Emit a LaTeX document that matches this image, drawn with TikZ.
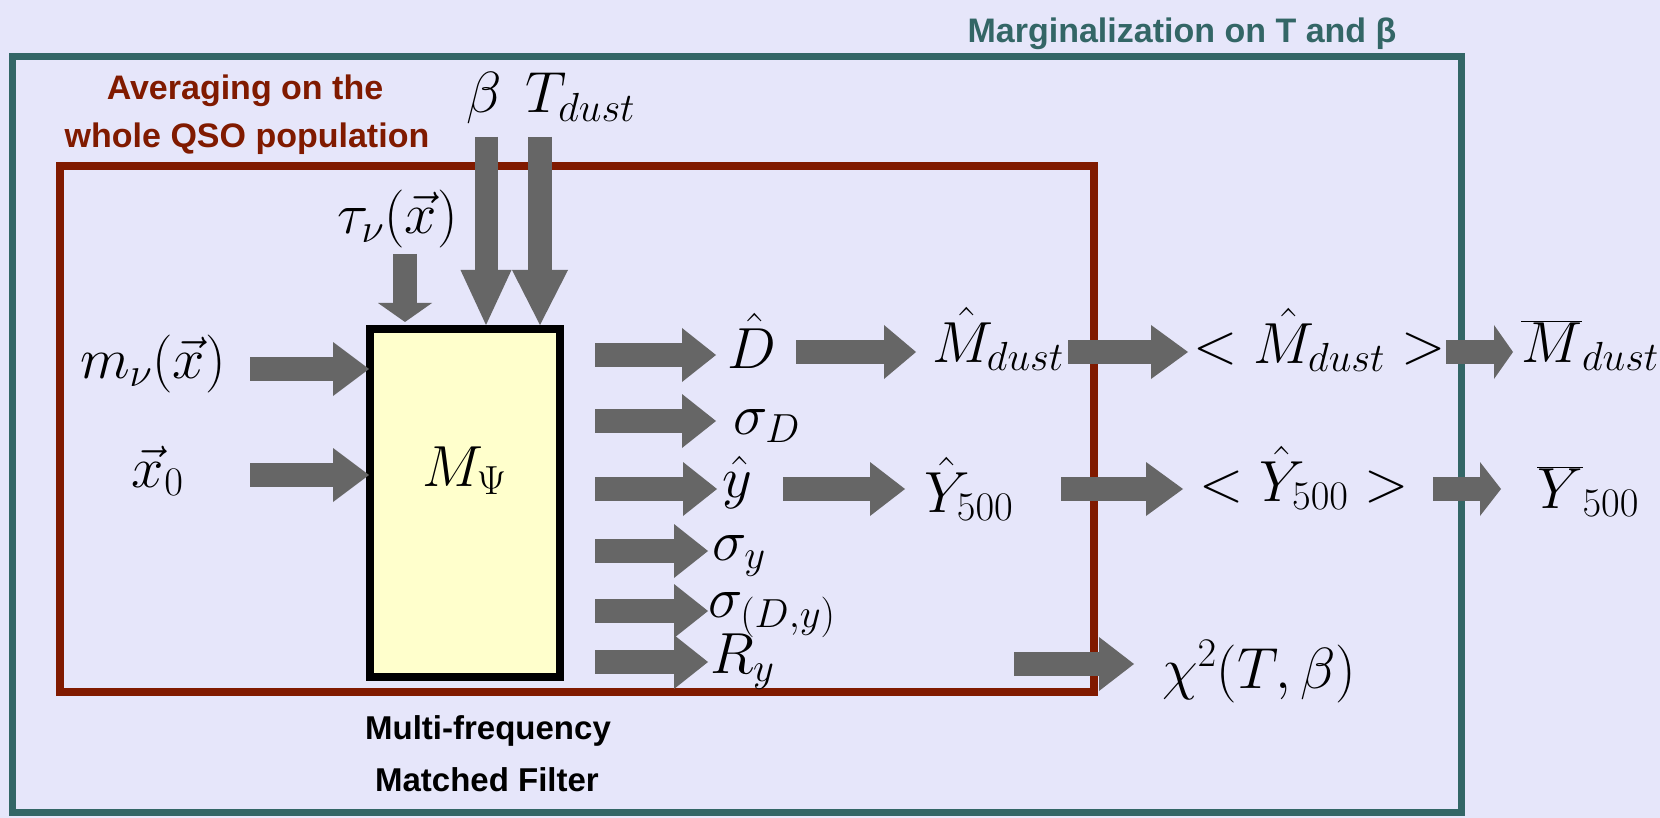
\RequirePackage{fix-cm}
\documentclass[tikz,border=0pt]{standalone}
\usepackage{fontspec}
\newfontfamily\labelsans{Liberation Sans}
\usetikzlibrary{arrows.meta}
\definecolor{bgcol}{RGB}{230,230,250}
\definecolor{tealc}{RGB}{51,102,102}
\definecolor{redc}{RGB}{128,26,0}
\definecolor{arrowgray}{RGB}{102,102,102}
\definecolor{yellowc}{RGB}{255,255,204}
\begin{document}
\begin{tikzpicture}[x=1pt,y=-1pt,
  every node/.style={inner sep=0pt, outer sep=0pt},
  mlab/.style={font=\fontsize{58}{70}\selectfont, anchor=base west},
  slab/.style={font=\labelsans\bfseries\fontsize{34}{40}\selectfont, anchor=base},
  blab/.style={font=\labelsans\bfseries\fontsize{33}{40}\selectfont, anchor=base},
  fat/.style={draw=arrowgray, line width=24pt, -{Triangle[length=#1,width=54pt,line width=0pt]}},
  fat/.default=35pt]
\useasboundingbox (0,0) rectangle (1660,818);
\fill[bgcol] (0,0) rectangle (1660,818);
% frames
\draw[tealc, line width=7pt] (12,57) rectangle (1461,812);
\draw[redc, line width=8pt] (60,166) rectangle (1094,692);
\node[draw=black, line width=8pt, fill=yellowc, minimum width=190pt, minimum height=348pt] (mf) at (465,503) {};
% arrow end points
\coordinate (mS) at (250,369);  \coordinate (mT) at (369,369);
\coordinate (xS) at (250,475);  \coordinate (xT) at (369,475);
\coordinate (tS) at (405,254);  \coordinate (tT) at (405,322);
\coordinate (bS) at (486,137);  \coordinate (bT) at (486,325);
\coordinate (dS) at (540,137);  \coordinate (dT) at (540,325);
\coordinate (o1S) at (595,355); \coordinate (o1T) at (716,355);
\coordinate (o2S) at (595,421); \coordinate (o2T) at (716,421);
\coordinate (o3S) at (595,489); \coordinate (o3T) at (717,489);
\coordinate (o4S) at (595,551); \coordinate (o4T) at (708,551);
\coordinate (o5S) at (595,611); \coordinate (o5T) at (708,611);
\coordinate (o6S) at (595,662); \coordinate (o6T) at (708,662);
\coordinate (p1S) at (796,352); \coordinate (p1T) at (916,352);
\coordinate (p2S) at (783,489); \coordinate (p2T) at (905,489);
\coordinate (q1S) at (1068,352); \coordinate (q1T) at (1188,352);
\coordinate (q2S) at (1061,489); \coordinate (q2T) at (1183,489);
\coordinate (r1S) at (1446,352); \coordinate (r1T) at (1513,352);
\coordinate (r2S) at (1433,489); \coordinate (r2T) at (1501,489);
\coordinate (cS) at (1014,664); \coordinate (cT) at (1134,664);
% arrows
\draw[fat=36pt] (mS) -- (mT);
\draw[fat=36pt] (xS) -- (xT);
\draw[fat=19pt] (tS) -- (tT);
\draw[draw=arrowgray, line width=23pt, -{Triangle[length=55pt,width=51pt,line width=0pt]}] (bS) -- (bT);
\draw[draw=arrowgray, line width=24pt, -{Triangle[length=55pt,width=56pt,line width=0pt]}] (dS) -- (dT);
\draw[fat=34pt] (o1S) -- (o1T);
\draw[fat=34pt] (o2S) -- (o2T);
\draw[fat=34pt] (o3S) -- (o3T);
\draw[fat=34pt] (o4S) -- (o4T);
\draw[fat=34pt] (o5S) -- (o5T);
\draw[fat=34pt] (o6S) -- (o6T);
\draw[fat=32pt] (p1S) -- (p1T);
\draw[fat=35pt] (p2S) -- (p2T);
\draw[fat=37pt] (q1S) -- (q1T);
\draw[fat=37pt] (q2S) -- (q2T);
\draw[fat=19pt] (r1S) -- (r1T);
\draw[fat=21pt] (r2S) -- (r2T);
\draw[fat=35pt] (cS) -- (cT);
% math labels
\node[mlab] (mnu) at (80,378) {$m_\nu(\vec{x})$};
\node[mlab] (x0) at (132,487) {$\vec{x}_0$};
\node[mlab] (tau) at (337,234) {$\tau_\nu(\vec{x})$};
\node[mlab] (beta) at (466,113) {$\beta$};
\node[mlab] (tdust) at (525,113) {$T_{dust}$};
\node[mlab] (MPsi) at (422,486) {$M_\Psi$};
\node[mlab] (Dhat) at (727,368) {$\hat{D}$};
\node[mlab] (sD) at (733,434) {$\sigma_D$};
\node[mlab] (yhat) at (722,497) {$\hat{y}$};
\node[mlab] (sy) at (712,560) {$\sigma_y$};
\node[mlab] (sDy) at (708,617) {$\sigma_{(D,y)}$};
\node[mlab] (Ry) at (710,673) {$R_y$};
\node[mlab] (Mhat) at (932,362) {$\hat{M}_{dust}$};
\node[mlab] (Yhat) at (924,512) {$\hat{Y}_{500}$};
\node[mlab] (Mavg) at (1193,363) {$<\hat{M}_{dust}>$};
\node[mlab] (Yavg) at (1199,501) {$<\hat{Y}_{500}>$};
\node[mlab] (Mbar) at (1521,362) {$\overline{M}_{dust}$};
\node[mlab] (Ybar) at (1537,508) {$\overline{Y}_{500}$};
\node[mlab] (chi) at (1162,688) {$\chi^2(T,\beta)$};
% text labels
\node[slab, text=tealc] (marg) at (1182,43) {Marginalization on T and β};
\node[slab, text=redc] (avg1) at (245,100) {Averaging on the};
\node[slab, text=redc] (avg2) at (247,148) {whole QSO population};
\node[blab] (mf1) at (488,739) {Multi-frequency};
\node[blab] (mf2) at (487,791) {Matched Filter};
\end{tikzpicture}
\end{document}
